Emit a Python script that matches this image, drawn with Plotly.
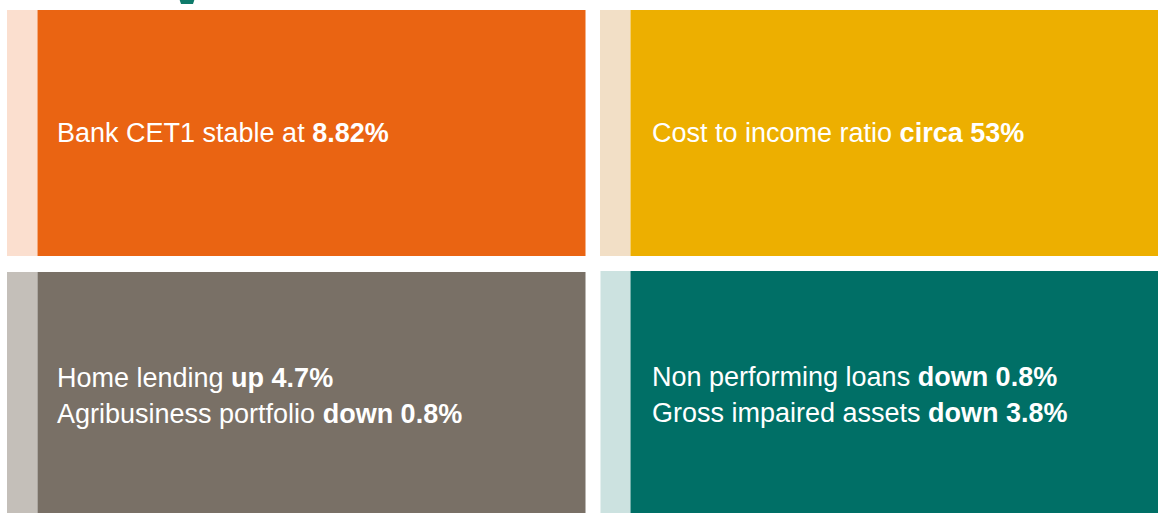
import plotly.graph_objects as go

# Tile content (text)
tile_names = ["capital", "cost", "lending", "asset_quality"]
tile_lines = [
    [("Bank CET1 stable at ", "8.82%")],
    [("Cost to income ratio ", "circa 53%")],
    [("Home lending ", "up 4.7%"), ("Agribusiness portfolio ", "down 0.8%")],
    [("Non performing loans ", "down 0.8%"), ("Gross impaired assets ", "down 3.8%")],
]
main_colors = ["#EA6412", "#EDAF00", "#797066", "#006F66"]
strip_colors = ["#FBDFCF", "#F2DFC6", "#C4BFB9", "#CCE2E0"]

W, H = 1158, 513
# layout geometry (pixels)
tile_geo = [
    # strip x0, main x0, x1, y0, y1, text y centers, text inset
    (7, 37.5, 585.5, 10, 256, [133], 17.5),
    (600, 630.5, 1170, 10, 256, [133], 19.5),
    (7, 37.5, 585.5, 272, 530, [378, 414], 17.5),
    (600.5, 630.5, 1170, 271, 530, [377, 413], 19.5),
]

fig = go.Figure()
shapes = []
annotations = []
for i, (sx, mx, x1, y0, y1, ys, inset) in enumerate(tile_geo):
    shapes.append(dict(type="rect", xref="x", yref="y", x0=sx, x1=mx, y0=y0, y1=y1,
                       fillcolor=strip_colors[i], line=dict(width=0), layer="below"))
    shapes.append(dict(type="rect", xref="x", yref="y", x0=mx, x1=x1, y0=y0, y1=y1,
                       fillcolor=main_colors[i], line=dict(width=0), layer="below"))
    for (reg, bold), yc in zip(tile_lines[i], ys):
        annotations.append(dict(
            x=mx + inset, y=yc, xref="x", yref="y", xanchor="left", yanchor="middle",
            text=f"{reg}<b>{bold}</b>", showarrow=False,
            font=dict(family="Liberation Sans, Arial, sans-serif", size=27, color="white"),
        ))

# cropped teal glyph from title above
shapes.append(dict(type="path", xref="x", yref="y",
                   path="M 178 -5 L 196 -5 L 193 4 L 181 4 Z",
                   fillcolor="#0E7A6A", line=dict(width=0)))

fig.add_trace(go.Scatter(x=[0, W], y=[0, H], mode="markers", marker=dict(opacity=0),
                         hoverinfo="skip", showlegend=False))
fig.update_layout(
    width=W, height=H, margin=dict(l=0, r=0, t=0, b=0),
    paper_bgcolor="white", plot_bgcolor="white",
    xaxis=dict(range=[0, W], visible=False, fixedrange=True),
    yaxis=dict(range=[H, 0], visible=False, fixedrange=True),
    shapes=shapes, annotations=annotations, showlegend=False,
)
fig.write_html("out.html", config={"displayModeBar": False, "staticPlot": True},
               post_script="document.body.style.margin='0';document.body.style.overflow='hidden';")
